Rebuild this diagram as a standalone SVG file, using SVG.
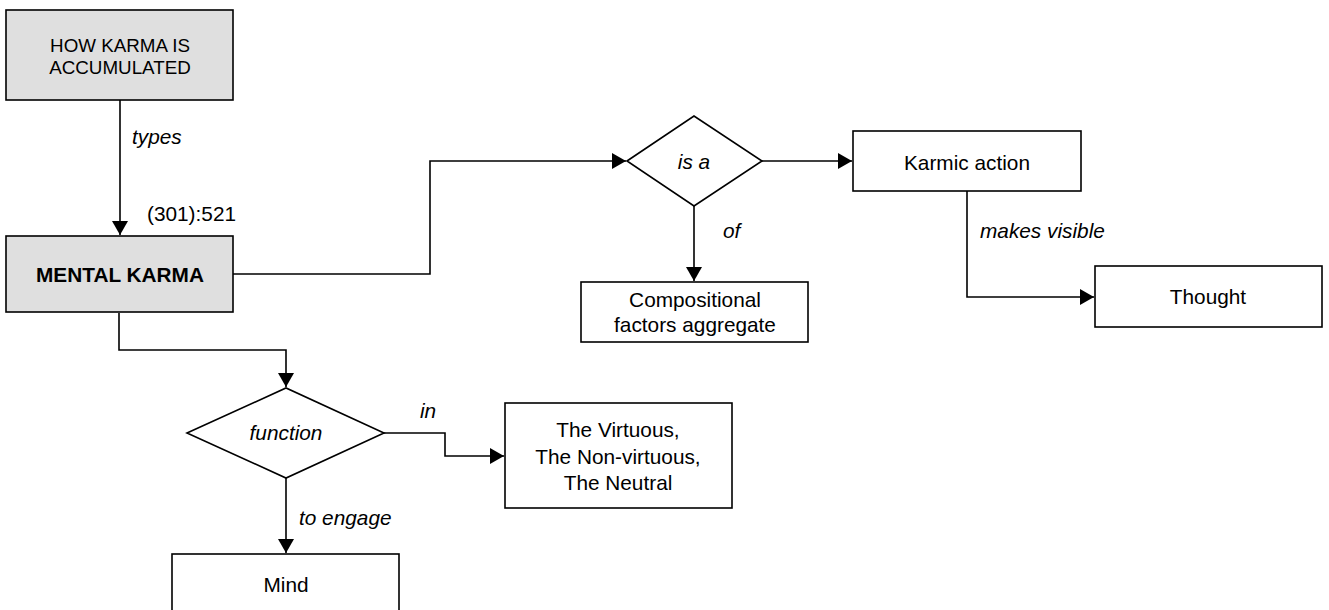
<svg xmlns="http://www.w3.org/2000/svg" width="1329" height="610" viewBox="0 0 1329 610">
<style>
.box{fill:#fff;stroke:#000;stroke-width:1.6}
.grey{fill:#dfdfdf}
.t{font-family:"Liberation Sans",Arial,sans-serif;font-size:20.8px;fill:#000;text-anchor:middle}
.l{font-family:"Liberation Sans",Arial,sans-serif;font-size:20.8px;font-style:italic;fill:#000}
.n{font-family:"Liberation Sans",Arial,sans-serif;font-size:20.8px;fill:#000}
.c{fill:none;stroke:#000;stroke-width:1.6}
</style>
<defs>
<marker id="ah" markerUnits="userSpaceOnUse" markerWidth="14" markerHeight="16" viewBox="0 0 14 16" refX="14" refY="8" orient="auto">
<path d="M0,0 L14,8 L0,16 Z" fill="#000"/>
</marker>
</defs>
<g id="connectors">
<path class="c" d="M120,100 V235" marker-end="url(#ah)"/>
<path class="c" d="M233,274 H430 V161 H626" marker-end="url(#ah)"/>
<path class="c" d="M762,161 H852" marker-end="url(#ah)"/>
<path class="c" d="M694,206 V281" marker-end="url(#ah)"/>
<path class="c" d="M967,191 V297 H1094" marker-end="url(#ah)"/>
<path class="c" d="M119,313 V350 H286 V387" marker-end="url(#ah)"/>
<path class="c" d="M384,433 H445 V456 H504" marker-end="url(#ah)"/>
<path class="c" d="M286,478 V553" marker-end="url(#ah)"/>
<text class="l" x="132" y="144">types</text>
<text class="l" x="723" y="238">of</text>
<text class="l" x="980" y="238">makes visible</text>
<text class="l" x="420" y="418">in</text>
<text class="l" x="299" y="525">to engage</text>
</g>
<g id="n-how">
<rect class="box grey" x="6" y="10" width="227" height="90"/>
<text class="t" x="120" y="52" style="font-size:18.8px">HOW KARMA IS</text>
<text class="t" x="120" y="74" style="font-size:18.8px">ACCUMULATED</text>
</g>
<g id="n-mental">
<rect class="box grey" x="6" y="236" width="227" height="76"/>
<text class="t" x="120" y="282" font-weight="bold">MENTAL KARMA</text>
<text class="n" x="147" y="221">(301):521</text>
</g>
<g id="n-isa">
<polygon class="box" points="627,161 694,116 762,161 694,206"/>
<text class="l" x="694" y="169" text-anchor="middle">is a</text>
</g>
<g id="n-karmic">
<rect class="box" x="853" y="131" width="228" height="60"/>
<text class="t" x="967" y="170">Karmic action</text>
</g>
<g id="n-comp">
<rect class="box" x="581" y="282" width="227" height="60"/>
<text class="t" x="695" y="307">Compositional</text>
<text class="t" x="695" y="332">factors aggregate</text>
</g>
<g id="n-thought">
<rect class="box" x="1095" y="266" width="227" height="61"/>
<text class="t" x="1208" y="304">Thought</text>
</g>
<g id="n-function">
<polygon class="box" points="187,433 286,388 384,433 286,478"/>
<text class="l" x="286" y="440" text-anchor="middle">function</text>
</g>
<g id="n-virtuous">
<rect class="box" x="505" y="403" width="227" height="105"/>
<text class="t" x="618" y="437">The Virtuous,</text>
<text class="t" x="618" y="464">The Non-virtuous,</text>
<text class="t" x="618" y="490">The Neutral</text>
</g>
<g id="n-mind">
<rect class="box" x="172" y="554" width="227" height="62"/>
<text class="t" x="286" y="592">Mind</text>
</g>
</svg>
